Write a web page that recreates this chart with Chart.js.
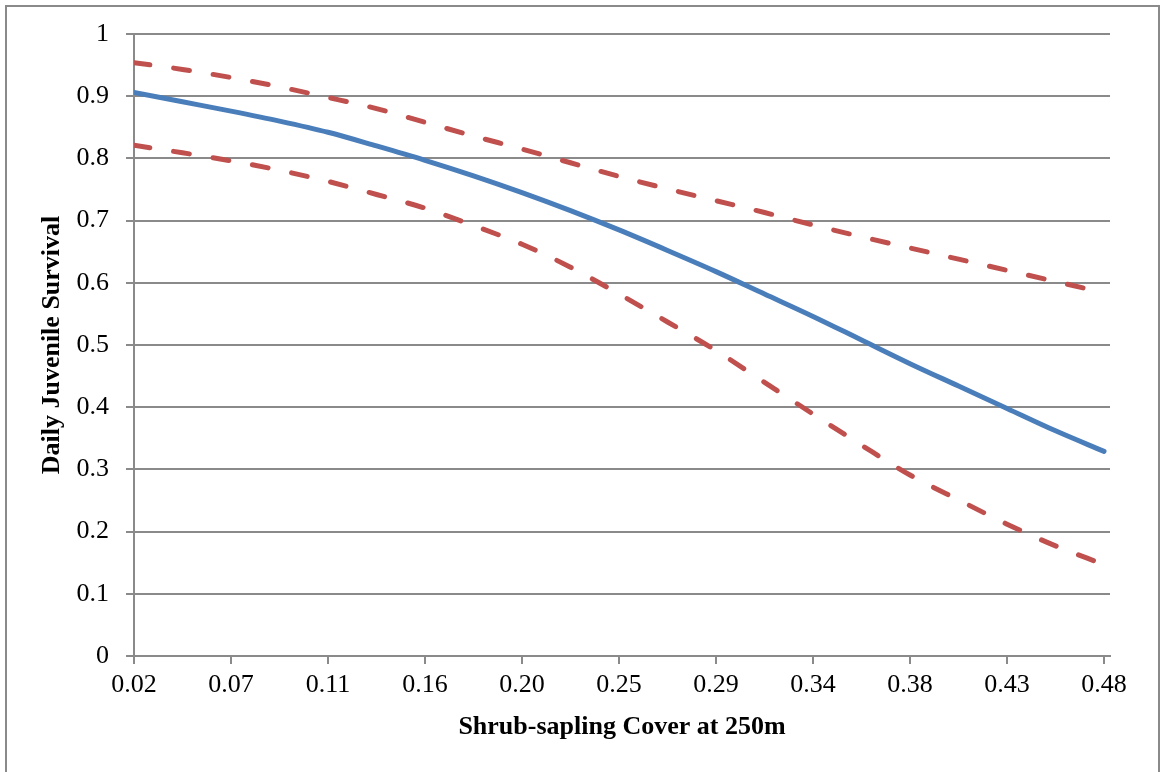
<!DOCTYPE html>
<html>
<head>
<meta charset="utf-8">
<script src="https://cdn.jsdelivr.net/npm/chart.js@4.4.1/dist/chart.umd.min.js"></script>
<style>
  html, body { margin: 0; padding: 0; background: #fff; overflow: hidden; }
  #frame {
    position: absolute; left: 5px; top: 5px; width: 1151px; height: 800px;
    border: 2px solid #8a8a8a; border-bottom: none;
  }
  #chart { position: absolute; left: 0; top: 0; }
</style>
</head>
<body>
<div id="frame"></div>
<canvas id="chart" width="1160" height="772"></canvas>
<script>
// shrub-sapling cover (x) and daily juvenile survival
let cover = [0.0205, 0.04325, 0.066, 0.08875, 0.1115, 0.13425, 0.157, 0.17975, 0.2025, 0.22525,
    0.248, 0.27075, 0.2935, 0.31625, 0.339, 0.36175, 0.3845, 0.40725, 0.43, 0.45275, 0.4755];

let survival = [0.906, 0.891, 0.876, 0.860, 0.842, 0.820, 0.797, 0.772, 0.745, 0.716,
    0.685, 0.652, 0.618, 0.582, 0.546, 0.508, 0.470, 0.434, 0.398, 0.362, 0.329];

let upperCI = [0.954, 0.943, 0.930, 0.915, 0.898, 0.880, 0.858, 0.836, 0.815, 0.793,
    0.771, 0.751, 0.732, 0.713, 0.693, 0.674, 0.656, 0.638, 0.620, 0.602, 0.584];

let lowerCI = [0.821, 0.809, 0.796, 0.781, 0.763, 0.742, 0.720, 0.692, 0.662, 0.625,
    0.582, 0.537, 0.491, 0.440, 0.389, 0.339, 0.291, 0.251, 0.212, 0.177, 0.147];

// tick positions on the x axis and the labels printed under them
let xTickValues = [0.0205, 0.066, 0.1115, 0.157, 0.2025, 0.248, 0.2935, 0.339, 0.3845, 0.43, 0.4755];
let xTickLabels = ['0.02', '0.07', '0.11', '0.16', '0.20', '0.25', '0.29', '0.34', '0.38', '0.43', '0.48'];

let toPoints = function (ys) {
    return ys.map((y, i) => ({ x: cover[i], y: y }));
}

const serif = "'Liberation Serif', 'Times New Roman', serif";
const axisGray = '#8a8a8a';

let lineStyle = function (color, dashed) {
    return {
        borderColor: color,
        borderWidth: 5,
        borderDash: dashed ? [16, 24] : [],
        borderCapStyle: 'round',
        pointRadius: 0,
        fill: false,
        cubicInterpolationMode: 'monotone'
    };
}

new Chart(document.getElementById('chart'), {
    type: 'line',
    data: {
        datasets: [
            Object.assign({ label: 'Upper', data: toPoints(upperCI) }, lineStyle('#C0504D', true)),
            Object.assign({ label: 'Lower', data: toPoints(lowerCI) }, lineStyle('#C0504D', true)),
            Object.assign({ label: 'Survival', data: toPoints(survival) }, lineStyle('#4A7EBB', false))
        ]
    },
    options: {
        responsive: false,
        animation: false,
        devicePixelRatio: 1,
        layout: { padding: { left: 0, top: 34, right: 50, bottom: 0 } },
        plugins: { legend: { display: false }, tooltip: { enabled: false } },
        scales: {
            x: {
                type: 'linear',
                min: 0.0205,
                max: 0.4783,
                afterFit: (scale) => { scale.height = 116; },
                afterBuildTicks: (scale) => {
                    scale.ticks = xTickValues.map(v => ({ value: v }));
                },
                grid: {
                    drawOnChartArea: false,
                    color: axisGray,
                    lineWidth: 2,
                    tickLength: 8
                },
                border: { color: axisGray, width: 2 },
                ticks: {
                    autoSkip: false,
                    maxRotation: 0,
                    padding: 6,
                    color: '#000',
                    font: { family: serif, size: 26 },
                    callback: (val, i) => xTickLabels[i]
                },
                title: {
                    display: true,
                    text: 'Shrub-sapling Cover at 250m',
                    color: '#000',
                    font: { family: serif, size: 26, weight: 'bold' },
                    padding: { top: 0, bottom: 29 }
                }
            },
            y: {
                min: 0,
                max: 1,
                afterFit: (scale) => { scale.width = 134; },
                grid: {
                    color: axisGray,
                    lineWidth: 2,
                    tickLength: 8
                },
                border: { color: axisGray, width: 2 },
                ticks: {
                    stepSize: 0.1,
                    padding: 17,
                    color: '#000',
                    font: { family: serif, size: 26 },
                    callback: (val) => String(Number(val.toFixed(1)))
                },
                title: {
                    display: true,
                    text: 'Daily Juvenile Survival',
                    color: '#000',
                    font: { family: serif, size: 26, weight: 'bold' },
                    padding: { top: 37, bottom: 0 }
                }
            }
        }
    }
});
</script>
</body>
</html>
